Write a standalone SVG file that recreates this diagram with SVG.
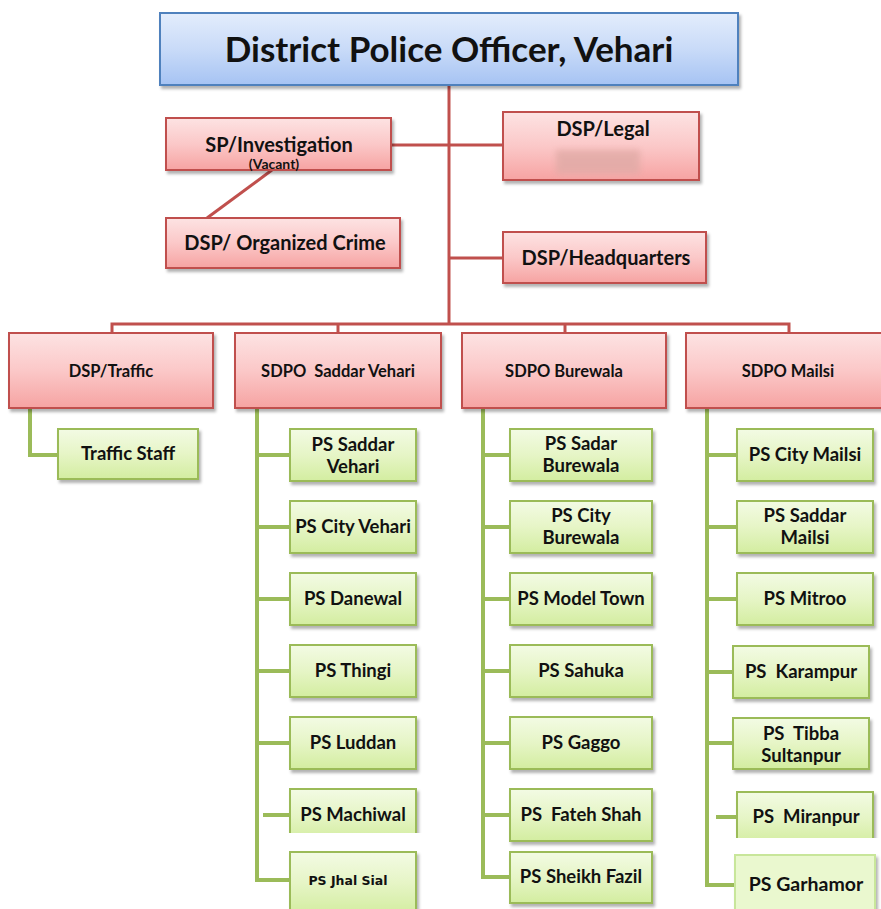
<svg xmlns="http://www.w3.org/2000/svg" width="881" height="909" viewBox="0 0 881 909">
<defs>
<linearGradient id="gBlue" x1="0" y1="0" x2="0" y2="1"><stop offset="0" stop-color="#e3edfc"/><stop offset="0.5" stop-color="#c9dbf8"/><stop offset="1" stop-color="#a6c3f3"/></linearGradient>
<linearGradient id="gRed" x1="0" y1="0" x2="0" y2="1"><stop offset="0" stop-color="#fde3e3"/><stop offset="0.5" stop-color="#fbc8c8"/><stop offset="1" stop-color="#f6a3a2"/></linearGradient>
<linearGradient id="gGreen" x1="0" y1="0" x2="0" y2="1"><stop offset="0" stop-color="#f3fbe4"/><stop offset="0.5" stop-color="#e6f5c6"/><stop offset="1" stop-color="#d3eda0"/></linearGradient>
<filter id="sh" x="-10%" y="-10%" width="130%" height="140%"><feDropShadow dx="2" dy="3" stdDeviation="1.5" flood-color="#000" flood-opacity="0.3"/></filter>
<filter id="blur" x="-20%" y="-50%" width="140%" height="200%"><feGaussianBlur stdDeviation="3"/></filter>
<clipPath id="clipMach"><rect x="0" y="0" width="881" height="833"/></clipPath>
<clipPath id="clipMiran"><rect x="0" y="0" width="881" height="838"/></clipPath>
</defs>
<style>
.blue{fill:url(#gBlue);stroke:#4f81bd;stroke-width:2;filter:url(#sh)}
.red{fill:url(#gRed);stroke:#c0504d;stroke-width:2;filter:url(#sh)}
.grn{fill:url(#gGreen);stroke:#9bbb59;stroke-width:2;filter:url(#sh)}
.rl{stroke:#c0504d;stroke-width:3;fill:none}
.gl{stroke:#9bbb59;stroke-width:4;fill:none}
text{font-family:Lato,"Liberation Sans",sans-serif;font-weight:bold;fill:#111;text-anchor:middle;white-space:pre}
.t1{font-size:35px}
.t2{font-size:20px}
.t3{font-size:16.5px}
.t4{font-size:18.5px}
.ts{font-size:14px}
</style>
<rect width="881" height="909" fill="#fff"/>

<g id="connectors">
<path class="rl" d="M449 85 V324"/>
<path class="rl" d="M391 145 H502"/>
<path class="rl" d="M449 258 H502"/>
<path class="rl" d="M272 170 L207 218"/>
<path class="rl" d="M112 333 V324 H789 V333"/>
<path class="rl" d="M338 324 V333"/>
<path class="rl" d="M565 324 V333"/>
<path class="gl" d="M30 408 V455 H58"/>
<path class="gl" d="M257 408 V880 H290"/>
<path class="gl" d="M257 455 H290 M257 527 H290 M257 599 H290 M257 671 H290 M257 743 H290 M263 815 H290"/>
<path class="gl" d="M483 408 V877 H510"/>
<path class="gl" d="M483 455 H510 M483 527 H510 M483 599 H510 M483 671 H510 M483 743 H510 M483 815 H510"/>
<path class="gl" d="M707 408 V885 H735"/>
<path class="gl" d="M707 455 H737 M707 527 H737 M707 599 H737 M707 672 H733 M707 743 H733 M716 817 H737"/>
</g>

<g id="dpo"><rect class="blue" x="160" y="13" width="578" height="72"/><text class="t1" x="449" y="62">District Police Officer, Vehari</text></g>
<g id="sp-investigation"><rect class="red" x="166" y="118" width="225" height="52"/><text class="t2" x="279" y="152">SP/Investigation</text><text class="ts" x="274" y="169">(Vacant)</text></g>
<g id="dsp-legal"><rect class="red" x="503" y="112" width="196" height="68"/><text class="t2" x="603" y="136">DSP/Legal</text><rect x="556" y="150" width="84" height="24" fill="#e0aaa6" opacity="0.8" filter="url(#blur)"/></g>
<g id="dsp-organized-crime"><rect class="red" x="166" y="218" width="234" height="50"/><text class="t2" x="285" y="250">DSP/ Organized Crime</text></g>
<g id="dsp-headquarters"><rect class="red" x="503" y="232" width="203" height="51"/><text class="t2" x="606" y="265">DSP/Headquarters</text></g>

<g id="dsp-traffic"><rect class="red" x="9" y="333" width="204" height="75"/><text class="t3" x="111" y="377">DSP/Traffic</text></g>
<g id="sdpo-saddar-vehari"><rect class="red" x="235" y="333" width="206" height="75"/><text class="t3" x="338" y="377">SDPO  Saddar Vehari</text></g>
<g id="sdpo-burewala"><rect class="red" x="462" y="333" width="204" height="75"/><text class="t3" x="564" y="377">SDPO Burewala</text></g>
<g id="sdpo-mailsi"><rect class="red" x="686" y="333" width="198" height="75"/><text class="t3" x="788" y="377">SDPO Mailsi</text></g>

<g id="traffic-staff"><rect class="grn" x="58" y="429" width="140" height="50"/><text class="t4" x="128" y="460">Traffic Staff</text></g>

<g id="ps-saddar-vehari"><rect class="grn" x="290" y="429" width="126" height="52"/><text class="t4" x="353" y="451">PS Saddar</text><text class="t4" x="353" y="473">Vehari</text></g>
<g id="ps-city-vehari"><rect class="grn" x="290" y="501" width="126" height="52"/><text class="t4" x="353" y="533">PS City Vehari</text></g>
<g id="ps-danewal"><rect class="grn" x="290" y="573" width="126" height="52"/><text class="t4" x="353" y="605">PS Danewal</text></g>
<g id="ps-thingi"><rect class="grn" x="290" y="645" width="126" height="52"/><text class="t4" x="353" y="677">PS Thingi</text></g>
<g id="ps-luddan"><rect class="grn" x="290" y="717" width="126" height="52"/><text class="t4" x="353" y="749">PS Luddan</text></g>
<g id="ps-machiwal" clip-path="url(#clipMach)"><rect class="grn" x="290" y="789" width="126" height="52"/><text class="t4" x="353" y="821">PS Machiwal</text></g>
<g id="ps-jhal-sial"><rect class="grn" x="290" y="852" width="126" height="62"/><text x="348" y="885" style="font-family:'DejaVu Sans',sans-serif;font-size:12.5px">PS Jhal Sial</text></g>

<g id="ps-sadar-burewala"><rect class="grn" x="510" y="429" width="142" height="52"/><text class="t4" x="581" y="450">PS Sadar</text><text class="t4" x="581" y="472">Burewala</text></g>
<g id="ps-city-burewala"><rect class="grn" x="510" y="501" width="142" height="52"/><text class="t4" x="581" y="522">PS City</text><text class="t4" x="581" y="544">Burewala</text></g>
<g id="ps-model-town"><rect class="grn" x="510" y="573" width="142" height="52"/><text class="t4" x="581" y="605">PS Model Town</text></g>
<g id="ps-sahuka"><rect class="grn" x="510" y="645" width="142" height="52"/><text class="t4" x="581" y="677">PS Sahuka</text></g>
<g id="ps-gaggo"><rect class="grn" x="510" y="717" width="142" height="52"/><text class="t4" x="581" y="749">PS Gaggo</text></g>
<g id="ps-fateh-shah"><rect class="grn" x="510" y="789" width="142" height="52"/><text class="t4" x="581" y="821">PS  Fateh Shah</text></g>
<g id="ps-sheikh-fazil"><rect class="grn" x="510" y="852" width="142" height="51"/><text class="t4" x="581" y="883">PS Sheikh Fazil</text></g>

<g id="ps-city-mailsi"><rect class="grn" x="737" y="429" width="136" height="52"/><text class="t4" x="805" y="461">PS City Mailsi</text></g>
<g id="ps-saddar-mailsi"><rect class="grn" x="737" y="501" width="136" height="52"/><text class="t4" x="805" y="522">PS Saddar</text><text class="t4" x="805" y="544">Mailsi</text></g>
<g id="ps-mitroo"><rect class="grn" x="737" y="573" width="136" height="52"/><text class="t4" x="805" y="605">PS Mitroo</text></g>
<g id="ps-karampur"><rect class="grn" x="733" y="646" width="136" height="52"/><text class="t4" x="801" y="678">PS  Karampur</text></g>
<g id="ps-tibba-sultanpur"><rect class="grn" x="733" y="718" width="136" height="51"/><text class="t4" x="801" y="740">PS  Tibba</text><text class="t4" x="801" y="762">Sultanpur</text></g>
<g id="ps-miranpur" clip-path="url(#clipMiran)"><rect class="grn" x="737" y="792" width="136" height="52"/><text class="t4" x="806" y="823">PS  Miranpur</text></g>
<g id="ps-garhamor"><rect class="grn" x="735" y="855" width="140" height="60" style="fill:#eaf8cf;stroke:#c8e69a"/><text class="t4" x="806" y="891" style="font-size:19.5px">PS Garhamor</text></g>
</svg>
